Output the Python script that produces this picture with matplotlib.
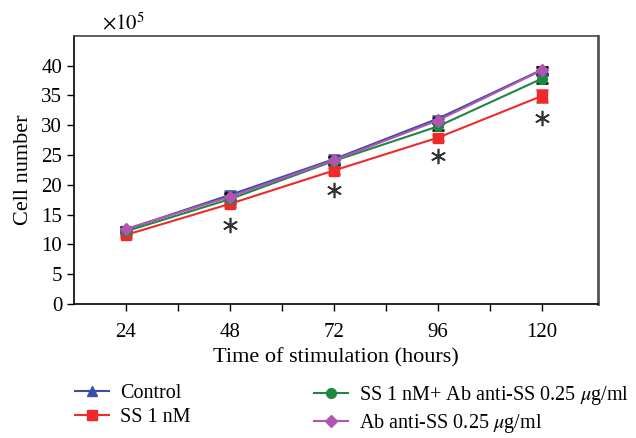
import matplotlib.pyplot as plt
import numpy as np

plt.rcParams['font.family'] = ['Liberation Serif', 'DejaVu Serif']
plt.rcParams['mathtext.fontset'] = 'stix'

hours = [24, 48, 72, 96, 120]
control = [12.5, 18.3, 24.3, 31.1, 39.3]
control_err = [0.4, 0.7, 0.7, 0.5, 0.5]
ss = [11.6, 16.8, 22.4, 27.9, 34.9]
ss_err = [0.4, 0.5, 0.5, 0.5, 1.0]
ss_ab = [12.2, 17.6, 24.0, 29.8, 37.8]
ss_ab_err = [0.4, 0.8, 0.6, 0.6, 0.7]
ab = [12.6, 18.0, 24.1, 30.8, 39.2]
ab_err = [0.4, 0.6, 0.6, 0.5, 0.6]
star_x = [48, 72, 96, 120]
star_y = [13.2, 19.1, 24.8, 31.3]

fs = 15

fig = plt.figure(figsize=(6.36, 4.38), dpi=100)
ax = fig.add_axes([0.1164, 0.306, 0.8236, 0.612])

series = [
    (control, control_err, '#3b4ea6', '^', 7, 'Control', '#3b4ea6'),
    (ss, ss_err, '#ee2a2a', 's', 7, 'SS 1 nM', '#ee2a2a'),
    (ss_ab, ss_ab_err, '#1f8743', 'o', 7, r'SS 1 nM+ Ab anti-SS 0.25 $\mu$g/ml', 'black'),
    (ab, ab_err, '#b055b0', 'D', 6.5, r'Ab anti-SS 0.25 $\mu$g/ml', 'black'),
]
handles = []
for vals, err, col, mk, ms, lab, ecol in series:
    ax.errorbar(hours, vals, yerr=err, fmt='none', ecolor=ecol, elinewidth=1.2,
                capsize=4, capthick=1.8, zorder=2)
    h, = ax.plot(hours, vals, color=col, marker=mk, markersize=ms, lw=1.5,
                 label=lab, zorder=3)
    handles.append(h)

# significance asterisks
ax.plot(star_x, star_y, linestyle='none', marker=(6, 2, 0), markersize=11,
        markeredgewidth=1.2, color='#333333', zorder=3)

ax.set_xlim(12, 133)
ax.set_ylim(0, 45)
ax.set_xticks(hours)
ax.set_xticks([36, 60, 84, 108], minor=True)
ax.set_yticks(np.arange(0, 41, 5))
ax.tick_params(axis='both', labelsize=fs, direction='out', length=5, width=1)
ax.tick_params(axis='x', which='minor', length=5, width=1)
ax.tick_params(axis='x', pad=9)
ax.set_xlabel('Time of stimulation (hours)', fontsize=fs + 1, labelpad=4)
ax.set_ylabel('Cell number', fontsize=fs + 1, labelpad=6)
for s in ax.spines.values():
    s.set_linewidth(1.2)
ax.spines['top'].set_color('#444444')
ax.spines['right'].set_color('#555555')
ax.spines['right'].set_linewidth(2)
fig.text(0.16, 0.932, r'$\times10^5$', fontsize=fs)

kw = dict(frameon=False, fontsize=14.5, handlelength=1.7, labelspacing=0.25,
          handletextpad=0.55, borderpad=0, borderaxespad=0, loc='upper left')
leg1 = fig.legend(handles=handles[:2], bbox_to_anchor=(0.118, 0.124), **kw)
leg2 = fig.legend(handles=handles[2:], bbox_to_anchor=(0.494, 0.124), **kw)

fig.savefig('out.png', dpi=100)
